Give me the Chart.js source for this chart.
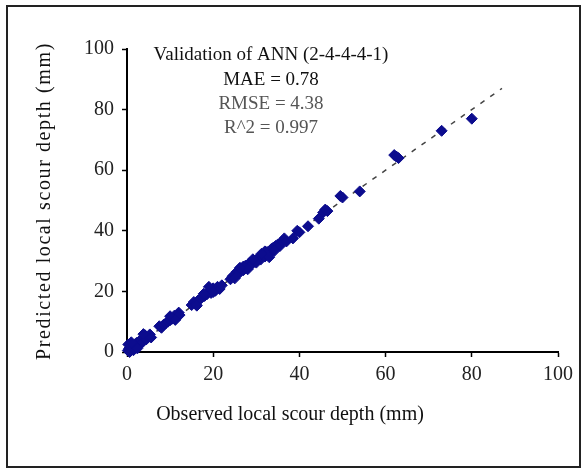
<!DOCTYPE html>
<html>
<head>
<meta charset="utf-8">
<script src="https://cdn.jsdelivr.net/npm/chart.js@4"></script>
<style>
  html, body { margin: 0; padding: 0; background: #fff; }
  #wrap { position: absolute; left: 0; top: 0; width: 586px; height: 473px; }
</style>
</head>
<body>
<div id="wrap"><canvas id="scour-chart" width="586" height="473"></canvas></div>
<script>
// Observed vs predicted scour depth (mm)
const observed = [
  0.2, 0.5, 0.8, 1.0, 1.2, 1.5, 1.8, 2.0, 2.2, 2.5, 2.8, 3.0, 3.3, 3.6, 4.0, 4.2, 4.5, 5.0, 5.3, 5.6, 0.3, 1.0, 0.6, 3.8, 2.4,
  7.5, 8.0, 8.5, 9.0, 9.5, 10.0, 10.5, 11.0, 11.5, 12.0, 12.2, 10.0, 11.2,
  15.0, 15.5, 16.0, 16.5, 17.0, 17.5, 18.0, 18.5, 19.0, 19.5, 20.0, 20.5, 21.0, 21.5, 22.0, 19.0, 20.0, 17.8, 16.2,
  24.0, 24.5, 25.0, 25.5, 26.0, 26.5, 27.0, 27.5, 28.0, 28.5, 29.0, 29.5, 30.0, 30.5, 31.0, 31.5, 32.0, 32.5,
  33.0, 33.5, 34.0, 34.5, 35.0, 35.5, 36.0, 36.5, 37.0, 27.0, 30.0, 32.0, 33.0, 25.0, 28.0, 26.2, 29.2, 31.2, 34.2,
  38.5, 39.5, 40.0, 42.0, 44.5, 45.5, 46.0, 46.5, 49.5, 50.0, 54.0, 62.0, 62.5, 63.0, 73.0, 80.0
];
const predicted = [
  0.5, 1.2, 0.3, 2.0, 1.0, 0.6, 2.5, 1.5, 3.0, 2.0, 3.5, 2.6, 4.0, 3.2, 4.8, 5.5, 4.2, 5.0, 5.8, 4.8, 2.5, 3.2, 0.0, 5.9, 1.2,
  8.5, 8.0, 9.0, 9.5, 10.0, 10.5, 11.0, 12.0, 11.5, 13.0, 12.2, 11.8, 10.6,
  15.5, 16.5, 15.8, 17.0, 17.5, 18.2, 18.5, 19.0, 20.0, 19.5, 21.0, 20.2, 21.5, 20.8, 22.0, 21.5, 19.8, 19.2, 15.3,
  24.0, 25.0, 25.5, 26.5, 26.0, 27.5, 27.0, 28.5, 28.0, 29.5, 29.0, 30.0, 30.5, 31.0, 30.5, 32.0, 31.5, 33.0,
  32.5, 34.0, 34.5, 35.0, 35.5, 35.0, 36.5, 37.5, 36.5, 28.2, 29.5, 33.2, 31.3, 24.3, 27.3, 27.8, 30.6, 32.4, 33.4,
  37.5, 40.0, 39.5, 41.5, 44.0, 46.0, 47.0, 46.5, 51.5, 51.0, 53.0, 65.0, 64.5, 64.0, 73.0, 77.0
];
// 1:1 reference line end points
const lineX = [0, 87];
const lineY = [0, 87];
const tickValues = [0, 20, 40, 60, 80, 100];

const annotation = ['Validation of ANN (2-4-4-4-1)', 'MAE = 0.78', 'RMSE = 4.38', 'R^2 = 0.997'];
const xTitle = 'Observed local scour depth (mm)';
const yTitle = 'Predicted local scour depth (mm)';

const serif = '"Liberation Serif", "Times New Roman", serif';

// frame, axis titles and the stats text block
const decorations = {
  id: 'decorations',
  beforeDraw(chart) {
    const c = chart.ctx;
    c.save();
    c.fillStyle = '#fff';
    c.fillRect(0, 0, chart.width, chart.height);
    c.strokeStyle = '#222';
    c.lineWidth = 2;
    c.strokeRect(7, 6, 573, 461);
    c.restore();
  },
  afterDraw(chart) {
    const c = chart.ctx;
    c.save();
    c.textAlign = 'center';
    c.textBaseline = 'middle';
    c.font = '20px ' + serif;
    c.fillStyle = '#111';
    c.fillText(xTitle, 290, 415);

    c.save();
    c.translate(45, 201);
    c.rotate(-Math.PI / 2);
    c.letterSpacing = '1.6px';
    c.fillText(yTitle, 0, 0);
    c.restore();

    c.font = '19px ' + serif;
    const ys = [55, 80, 104, 128];
    const cols = ['#111', '#111', '#555', '#555'];
    annotation.forEach((t, i) => {
      c.fillStyle = cols[i];
      c.fillText(t, 271, ys[i]);
    });
    c.restore();
  }
};

const ctx = document.getElementById('scour-chart').getContext('2d');
const chart = new Chart(ctx, {
  type: 'scatter',
  data: {
    datasets: [
      {
        type: 'line',
        data: lineX.map((x, i) => ({ x: x, y: lineY[i] })),
        borderColor: '#444',
        borderWidth: 1.5,
        borderDash: [5, 7],
        pointRadius: 0,
        fill: false,
        order: 2
      },
      {
        data: observed.map((x, i) => ({ x: x, y: predicted[i] })),
        pointStyle: 'rectRot',
        pointRadius: 5.5,
        backgroundColor: '#0c0c8e',
        borderColor: '#0c0c8e',
        borderWidth: 1,
        clip: false,
        order: 1
      }
    ]
  },
  options: {
    responsive: false,
    animation: false,
    layout: { padding: { left: 0, top: 49, right: 28, bottom: 0 } },
    plugins: { legend: { display: false }, tooltip: { enabled: false } },
    scales: {
      x: {
        type: 'linear',
        min: 0, max: 100,
        afterFit: s => { s.height = 121; },
        afterBuildTicks: s => { s.ticks = tickValues.map(v => ({ value: v })); },
        grid: { drawOnChartArea: false, color: '#000', tickLength: 5, tickWidth: 1.5 },
        border: { color: '#000', width: 2 },
        ticks: { color: '#222', padding: 6, font: { family: serif, size: 20 } }
      },
      y: {
        type: 'linear',
        min: 0, max: 100,
        afterFit: s => { s.width = 127; },
        afterBuildTicks: s => { s.ticks = tickValues.map(v => ({ value: v })); },
        grid: { drawOnChartArea: false, color: '#000', tickLength: 5, tickWidth: 1.5 },
        border: { color: '#000', width: 2 },
        ticks: { color: '#222', padding: 8, font: { family: serif, size: 20 } }
      }
    }
  },
  plugins: [decorations]
});
</script>
</body>
</html>
